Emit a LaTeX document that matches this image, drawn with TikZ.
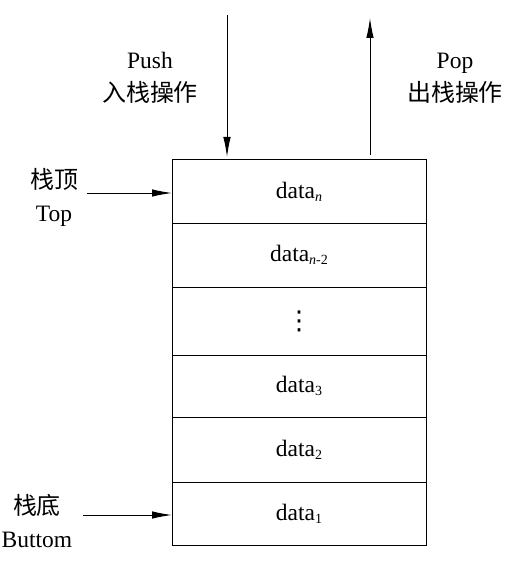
\documentclass[tikz,border=0pt]{standalone}
\usepackage{fontspec}
\setmainfont{Liberation Serif}
\newfontfamily\cjk[Scale=1.02]{Noto Sans CJK SC}
\newfontfamily\dvs{DejaVu Sans}
\usetikzlibrary{arrows.meta}
\newcommand{\sub}[1]{\raisebox{-3pt}{\fontsize{14}{14}\selectfont #1}}
\begin{document}
\begin{tikzpicture}[x=1pt,y=-1pt,
  cell/.style={draw,line width=1pt,minimum width=254pt,minimum height=64pt,inner sep=0pt,outer sep=0pt,font=\fontsize{23.5}{28}\selectfont},
  lbl/.style={align=center,inner sep=0pt,font=\fontsize{23.5}{33}\selectfont},
  arr/.style={line width=1pt,-{Latex[length=20pt,width=7.5pt]}}]
\useasboundingbox (0,0) rectangle (509,564);
\node[cell,minimum height=63pt] (c6) at (299,191.5) {data\sub{\textit{n}}};
\node[cell] (c5) at (299,255) {data\sub{\textit{n}-2}};
\node[cell,minimum height=68pt] (c4) at (299,321) {\raisebox{2pt}{\dvs\fontsize{26}{26}\selectfont ⋮}};
\node[cell,minimum height=62pt] (c3) at (299,386) {data\sub{3}};
\node[cell,minimum height=65pt] (c2) at (299,449.5) {data\sub{2}};
\node[cell,minimum height=63pt] (c1) at (299,513.5) {data\sub{1}};
\coordinate (pushs) at (227,15);
\coordinate (pushe) at (227,157);
\coordinate (pops) at (370,155);
\coordinate (pope) at (370,18);
\draw[arr] (pushs) -- (pushe);
\draw[arr] (pops) -- (pope);
\node[lbl] (push) at (150,78) {Push\\{\cjk 入栈操作}};
\node[lbl] (pop) at (455,78) {Pop\\{\cjk 出栈操作}};
\node[lbl] (top) at (54,197) {{\cjk 栈顶}\\Top};
\node[lbl] (bot) at (37,521) {{\cjk 栈底}\\Buttom};
\coordinate (ts) at (87,193);
\coordinate (bs) at (83,515);
\draw[arr] (ts) -- (ts -| c6.west);
\draw[arr] (bs) -- (bs -| c1.west);
\end{tikzpicture}
\end{document}
